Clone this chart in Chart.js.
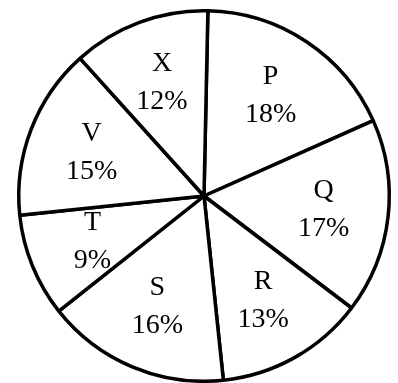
<!DOCTYPE html>
<html>
<head>
<meta charset="utf-8">
<script src="https://cdn.jsdelivr.net/npm/chart.js@4"></script>
<style>
    body { margin: 0; background: #fff; }
    #box { width: 398px; height: 383px; }
</style>
</head>
<body>
<div id="box"><canvas id="pieChart"></canvas></div>
<script>
// Parts du diagramme (sens horaire depuis le haut)
const labels = ['P', 'Q', 'R', 'S', 'T', 'V', 'X'];
const values = [18, 17, 13, 16, 9, 15, 12];

// écrit la lettre et le pourcentage dans chaque part
const sliceText = {
    id: 'sliceText',
    afterDatasetsDraw(chart) {
        const ctx = chart.ctx;
        const arcs = chart.getDatasetMeta(0).data;
        ctx.save();
        ctx.fillStyle = '#000';
        ctx.font = '28px "Liberation Serif", "DejaVu Serif", serif';
        ctx.textAlign = 'center';
        ctx.textBaseline = 'middle';
        arcs.forEach((arc, i) => {
            const p = arc.getProps(['x', 'y', 'startAngle', 'endAngle', 'outerRadius'], true);
            const mid = (p.startAngle + p.endAngle) / 2;
            const r = p.outerRadius * 0.65;
            const cx = p.x + Math.cos(mid) * r;
            const cy = p.y + Math.sin(mid) * r;
            ctx.fillText(labels[i], cx, cy - 19);
            ctx.fillText(values[i] + '%', cx, cy + 19);
        });
        ctx.restore();
    }
};

new Chart(document.getElementById('pieChart'), {
    type: 'pie',
    data: {
        labels: labels,
        datasets: [{
            data: values,
            backgroundColor: '#fff',
            borderColor: '#000',
            borderWidth: 3.5
        }]
    },
    options: {
        responsive: true,
        maintainAspectRatio: false,
        animation: false,
        rotation: 1.2,
        layout: {
            padding: { left: 16, right: 6, top: 9, bottom: 0 }
        },
        plugins: {
            legend: { display: false },
            tooltip: { enabled: false }
        }
    },
    plugins: [sliceText]
});
</script>
</body>
</html>
